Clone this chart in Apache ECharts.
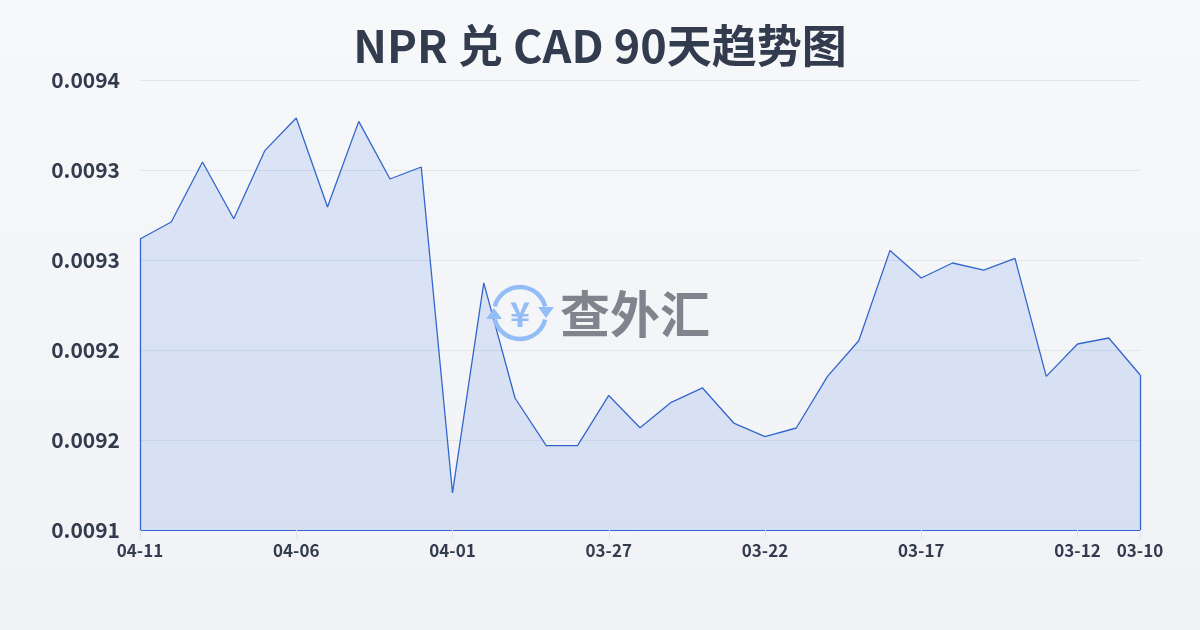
<!DOCTYPE html>
<html>
<head>
<meta charset="utf-8">
<script src="https://cdn.jsdelivr.net/npm/echarts@6/dist/echarts.min.js"></script>
<style>
html,body{margin:0;padding:0;}
#c{width:1200px;height:630px;}
</style>
</head>
<body>
<div id="c"></div>
<script>
const titleText = 'NPR 兑 CAD 90天趋势图';
const dates = ['04-11','04-10','04-09','04-08','04-07','04-06','04-05','04-04','04-03','04-02','04-01',
  '03-31','03-30','03-29','03-28','03-27','03-26','03-25','03-24','03-23','03-22',
  '03-21','03-20','03-19','03-18','03-17','03-16','03-15','03-14','03-13','03-12','03-11','03-10'];
const rates = [0.009294,0.0093053,0.0093453,0.0093075,0.0093531,0.0093747,0.0093153,0.0093724,0.009334,0.009342,0.0091247,
  0.0092647,0.009188,0.0091562,0.0091562,0.0091897,0.0091682,0.0091851,0.0091947,0.0091713,0.0091622,
  0.009168,0.0092024,0.0092262,0.0092864,0.009268,0.009278,0.0092733,0.0092811,0.0092024,0.009224,0.009228,0.0092035];
const yMin = 0.0091, yMax = 0.0094, yStep = 0.00006;
const watermark = '查外汇';

const lineColor = '#3366cc';
const last = dates.length - 1;
const showIdx = (i) => i % 5 === 0 || i === last;
const font = '"Noto Sans CJK SC", "Noto Sans", sans-serif';
const iconColor = '#94bdf6';

const chart = echarts.init(document.getElementById('c'));
chart.setOption({
  animation: false,
  backgroundColor: new echarts.graphic.LinearGradient(0, 0, 0, 1, [
    {offset: 0, color: '#f7f8fa'}, {offset: 1, color: '#f1f2f5'}
  ]),
  title: {
    text: titleText, left: 'center', top: 18,
    textStyle: {fontFamily: font, fontSize: 45, fontWeight: 'bold', color: '#333c4e'}
  },
  graphic: [
    {type: 'arc', shape: {cx: 520, cy: 313, r: 26, startAngle: -Math.PI*0.92, endAngle: -Math.PI*0.08},
      style: {stroke: iconColor, lineWidth: 4.5, fill: null}, z: 5},
    {type: 'arc', shape: {cx: 520, cy: 313, r: 26, startAngle: Math.PI*0.08, endAngle: Math.PI*0.92},
      style: {stroke: iconColor, lineWidth: 4.5, fill: null}, z: 5},
    {type: 'polygon', shape: {points: [[538, 307], [554, 307], [546, 318]]}, style: {fill: iconColor}, z: 5},
    {type: 'polygon', shape: {points: [[486, 319], [502, 319], [494, 308]]}, style: {fill: iconColor}, z: 5},
    {type: 'text', x: 520, y: 314, style: {text: '¥', font: 'bold 34px ' + font, fill: iconColor, align: 'center', verticalAlign: 'middle'}, z: 5},
    {type: 'text', x: 560, y: 314, style: {text: watermark, font: 'bold 50px ' + font, fill: '#80848c', align: 'left', verticalAlign: 'middle'}, z: 5}
  ],
  grid: {left: 140, right: 60, top: 80, bottom: 100, containLabel: false},
  xAxis: {
    type: 'category', data: dates, boundaryGap: false,
    axisLine: {show: true, lineStyle: {color: lineColor, width: 1}},
    axisTick: {show: true, interval: (i) => showIdx(i), length: 8, lineStyle: {color: '#dfe2e8'}},
    axisLabel: {interval: (i) => showIdx(i), fontFamily: font, fontSize: 17, fontWeight: 'bold', color: '#333c4e', margin: 12},
    splitLine: {show: false}
  },
  yAxis: {
    type: 'value', min: yMin, max: yMax, interval: yStep,
    axisLine: {show: false}, axisTick: {show: false},
    axisLabel: {formatter: (v) => v.toFixed(4), fontFamily: font, fontSize: 21, fontWeight: 'bold', color: '#333c4e', margin: 20},
    splitLine: {lineStyle: {color: '#e2e5ea', width: 1}}
  },
  series: [{
    type: 'line', data: rates, symbol: 'none', smooth: false,
    lineStyle: {color: lineColor, width: 1.3},
    areaStyle: {color: 'rgba(60,115,230,0.2)'},
    z: 3,
    markLine: {
      silent: true, symbol: ['none','none'], label: {show: false},
      lineStyle: {color: lineColor, width: 1.3, type: 'solid'},
      data: [
        [{coord: [dates[0], yMin]}, {coord: [dates[0], rates[0]]}],
        [{coord: [dates[last], yMin]}, {coord: [dates[last], rates[last]]}]
      ]
    }
  }]
});
</script>
</body>
</html>
